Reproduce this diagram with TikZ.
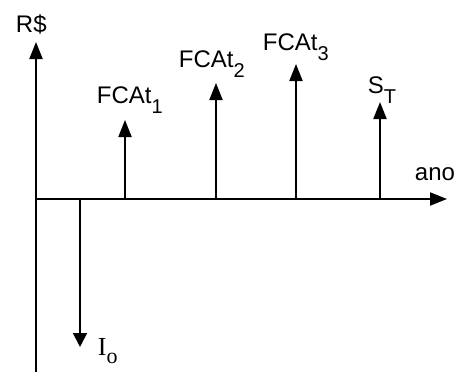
\documentclass[tikz,border=0pt]{standalone}
\usepackage{fontspec}
\setmainfont{Liberation Sans}
\newfontfamily\serifI{Liberation Serif}
\usetikzlibrary{arrows.meta}
\newcommand{\low}[1]{\raisebox{-5pt}{\fontsize{10}{10}\selectfont #1}}
\tikzset{
  arr/.style={-{Triangle[length=8.5pt,width=6.5pt]}},
  lbl/.style={anchor=base west, inner sep=0pt, font=\fontsize{12}{14}\selectfont}
}
\begin{document}
\begin{tikzpicture}[x=0.5pt, y=0.5pt, line width=0.95pt]
    \useasboundingbox (0,0) rectangle (454,372);
    % axes
    \coordinate (o) at (36,173);
    \coordinate (ybot) at (36,0);
    \coordinate (ytop) at (36,330);
    \coordinate (xend) at (447,173);
    \draw[arr] (ybot) -- (ytop);
    \draw[arr] (o) -- (xend);
    \node[lbl] (rs) at (15,340) {R\$};
    \node[lbl] (ano) at (414,192) {ano};
    % investment
    \coordinate (b0) at (80,173);
    \coordinate (t0) at (80,25);
    \draw[arr, -{Triangle[length=7pt,width=7pt]}] (b0) -- (t0);
    \node[lbl] (io) at (97,17) {\fontsize{13}{14}\selectfont\serifI I\raisebox{-4pt}{\fontsize{11}{11}\selectfont o}};
    % cash flows
    \coordinate (b1) at (125,173);
    \coordinate (t1) at (125,252);
    \draw[arr] (b1) -- (t1);
    \node[lbl] (fca1) at (96,269) {FCAt\low{1}};
    \coordinate (b2) at (216,173);
    \coordinate (t2) at (216,289);
    \draw[arr] (b2) -- (t2);
    \node[lbl] (fca2) at (178,305) {FCAt\low{2}};
    \coordinate (b3) at (296,173);
    \coordinate (t3) at (296,308);
    \draw[arr] (b3) -- (t3);
    \node[lbl] (fca3) at (262,322) {FCAt\low{3}};
    \coordinate (b4) at (380,173);
    \coordinate (t4) at (380,270);
    \draw[arr] (b4) -- (t4);
    \node[lbl] (st) at (367,279) {S\low{T}};
\end{tikzpicture}
\end{document}
